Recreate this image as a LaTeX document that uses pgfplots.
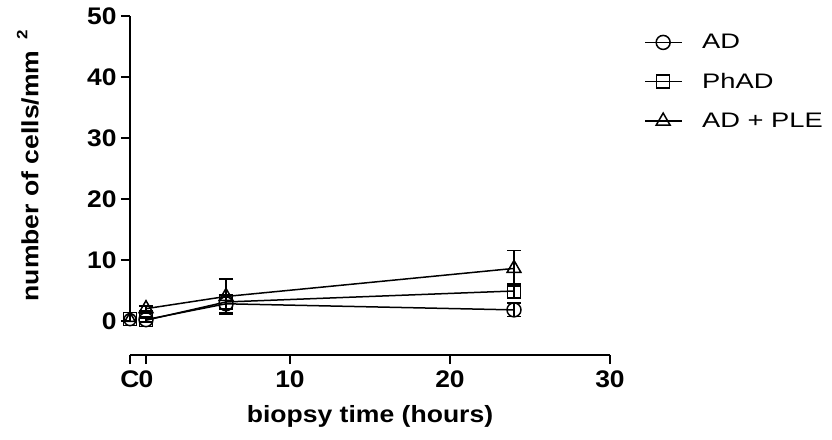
\documentclass[border=0pt]{standalone}
\usepackage{fontspec}
\setmainfont{Liberation Sans}[FakeStretch=1.3]
\newfontfamily\tickf{Liberation Sans}[FakeStretch=1.1]
\newfontfamily\labf{Liberation Sans}[FakeStretch=1.13]
\usepackage{pgfplots}
\pgfplotsset{compat=1.18}
\begin{document}
\begin{tikzpicture}
\useasboundingbox (-130pt,-84pt) rectangle (702pt,355pt);
\begin{axis}[
 at={(0,0)}, anchor=south west,
 scale only axis, width=480pt, height=339pt,
 xmin=0, xmax=30, ymin=-5.6, ymax=50,
 axis x line*=bottom, axis y line*=left,
 x axis line style={-, line width=2.5pt},
 y axis line style={draw=none},
 xtick={0,1,10,20,30}, xticklabels={C,0,10,20,30},
 ytick={0,10,20,30,40,50},
 tick align=outside, major tick length=9pt,
 tick style={line width=2.5pt, black},
 /pgf/number format/assume math mode=true,
 ticklabel style={font=\tickf\bfseries\fontsize{24}{24}\selectfont},
 xticklabel style={yshift=-3pt},
 yticklabel style={xshift=-1pt},
 xlabel={biopsy time (hours)}, ylabel={number of cells/mm \,\raisebox{11pt}{\fontsize{15}{15}\selectfont 2}},
 label style={font=\labf\bfseries\fontsize{23.5}{27}\selectfont},
 xlabel style={at={(axis description cs:0.5,-0.18)}, anchor=center},
 ylabel style={at={(axis description cs:-0.213,0.559)}, anchor=center},
 clip=false,
 legend style={at={(axis description cs:1.065,0.958)}, anchor=north west, draw=none, fill=none, font=\fontsize{21}{25}\selectfont, row sep=19pt},
 legend cell align=left,
 legend image code/.code={\path[draw=none] (0pt,0pt) -- (55pt,0pt); \draw[mark repeat=2, mark phase=2, #1] plot coordinates {(0pt,0pt)(18pt,0pt)(37pt,0pt)};},
 every axis plot/.append style={black, line width=1.5pt, mark options={fill=white, line width=1.5pt, solid}},
 error bars/error bar style={line width=1.5pt},
 error bars/error mark options={line width=1.5pt, mark size=7pt, rotate=90},
]
\draw[line width=2.5pt] (axis cs:0,0) -- (axis cs:0,50);
\addplot[mark=o, mark size=7pt, error bars/.cd, y dir=both, y explicit] coordinates {(1,0.2) +- (0,0.4) (6,2.8) +- (0,1.5) (24,1.8) +- (0,1.1)};
\addlegendentry{AD}
\addplot[mark=square, mark size=6.5pt, error bars/.cd, y dir=both, y explicit] coordinates {(1,0.1) +- (0,0.4) (6,3.1) +- (0,1.2) (24,4.9) +- (0,1.2)};
\addlegendentry{PhAD}
\addplot[mark=triangle, mark size=8pt, error bars/.cd, y dir=both, y explicit] coordinates {(1,2.0) +- (0,0.4) (6,4.0) +- (0,2.9) (24,8.6) +- (0,2.9)};
\addlegendentry{AD + PLE}
\addplot[only marks, mark=square, mark size=6.5pt, forget plot] coordinates {(0,0.3)};
\addplot[only marks, mark=o, mark size=6pt, forget plot] coordinates {(0,0.2)};
\addplot[only marks, mark=triangle, mark size=6pt, forget plot] coordinates {(0,0.4)};
\end{axis}
\end{tikzpicture}
\end{document}
